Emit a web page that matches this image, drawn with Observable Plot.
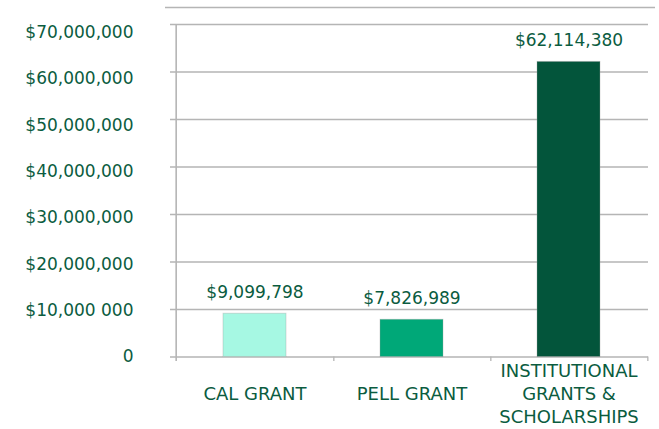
<!DOCTYPE html>
<html><head><meta charset="utf-8">
<script src="https://cdn.jsdelivr.net/npm/d3@7"></script>
<script src="https://cdn.jsdelivr.net/npm/@observablehq/plot@0.6"></script>
<style>html,body{margin:0;padding:0;background:#fff} svg{display:block}</style>
</head><body><div id="chart"></div>
<script>
// ---- data ----
const categories = ["CAL GRANT", "PELL GRANT", "INSTITUTIONAL\nGRANTS &\nSCHOLARSHIPS"];
const values = [9099798, 7826989, 62114380];
const valueLabels = ["$9,099,798", "$7,826,989", "$62,114,380"];
const yTicks = [0, 10000000, 20000000, 30000000, 40000000, 50000000, 60000000, 70000000];
const yTickLabels = ["0", "$10,000 000", "$20,000,000", "$30,000,000", "$40,000,000", "$50,000,000", "$60,000,000", "$70,000,000"];

// ---- style ----
const barColors = ["#a6f8e3", "#00a878", "#03553b"];
const green = "#0b5c3f";
const grid = "#b5b5b5";
const W = 659, H = 429, mL = 175, mR = 11, mT = 7, mB = 68;
const step = (W - mL - mR) / categories.length;
const yTop = 73580000, yBottom = -950000; // frame extents beyond the tick range
const labelSpacing = 0.976;               // tick labels are set slightly tighter than gridlines

const data = categories.map((c, i) => ({category: c, value: values[i], label: valueLabels[i]}));

const chart = Plot.plot({
  width: W, height: H,
  marginLeft: mL, marginRight: mR, marginTop: mT, marginBottom: mB,
  style: {fontFamily: "'DejaVu Sans', sans-serif", fontSize: "17px", color: green, background: "#fff"},
  x: {domain: categories, paddingInner: 0.6, paddingOuter: 0.3, axis: null},
  y: {domain: [yBottom, yTop], axis: null},
  color: {domain: categories, range: barColors},
  marks: [
    Plot.ruleY(yTicks, {stroke: grid, strokeWidth: 1.3, insetLeft: -5}),
    Plot.ruleY([yTop], {stroke: grid, strokeWidth: 1.3, insetLeft: -10, insetRight: -7}),
    Plot.ruleX([categories[0]], {dx: -step / 2, y1: yBottom, y2: yTicks[yTicks.length - 1], stroke: grid, strokeWidth: 1.6}),
    Plot.ruleX(categories, {dx: step / 2, y1: yBottom, y2: 0, stroke: grid, strokeWidth: 1.3}),
    Plot.barY(data, {x: "category", y: "value", fill: "category", stroke: "#9a9a9a", strokeOpacity: 0.35, strokeWidth: 1}),
    Plot.text(data, {x: "category", y: "value", text: "label", dy: -21, fill: green, fontSize: 17}),
    Plot.text(categories, {x: d => d, frameAnchor: "bottom", dy: 31, lineAnchor: "middle", lineHeight: 1.3, fill: green, fontSize: 18}),
    Plot.text(yTicks, {y: d => d * labelSpacing, text: (d, i) => yTickLabels[i], frameAnchor: "left", textAnchor: "end", dx: -42, fill: green, fontSize: 17})
  ]
});
document.getElementById("chart").appendChild(chart);
</script>
</body></html>
